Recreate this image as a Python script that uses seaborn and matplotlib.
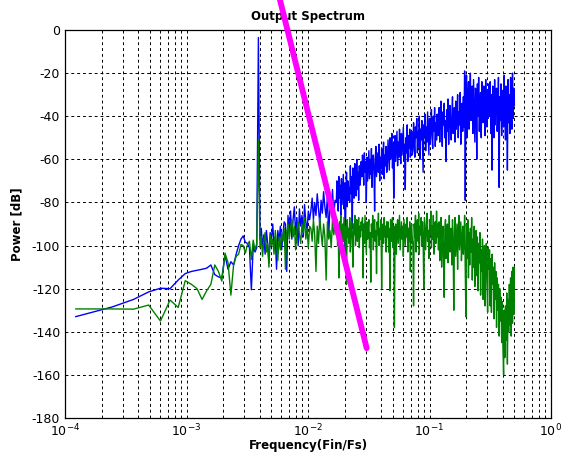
import numpy as np
import pandas as pd
import matplotlib
matplotlib.use("Agg")
import matplotlib.pyplot as plt
import seaborn as sns

# ---------------- data ----------------
fft_n = 8192
low_bins = list(range(1, 33))           # FFT bins k = 1..32 (f = k / N)
blue_low = [-133, -128.5, -125, -121.5, -119.8, -120, -116, -113, -112, -111.5,
            -111, -110.5, -109, -113.5, -114.5, -115, -104.5, -111, -107.5, -109,
            -104, -100, -97, -95.5, -98.5, -99, -101, -120.5, -100.5, -103,
            -101, -3.5]
green_low = [-129.4, -129.4, -129.5, -127.6, -135, -125.3, -128.7, -116.3, -118, -120,
             -125, -121, -118, -109, -112, -116.5, -103.5, -108, -123, -109,
             -105, -104, -99.5, -100, -103.5, -99.5, -98, -106.5, -97.5, -102,
             -99, -51]

# middle part: bin 33 .. f = 0.0171
mid_start, mid_stop = 33 / 8192, 0.0171
blue_mid = [
    -97, -92, -101, -95, -104, -93, -99, -108, -94, -97, -90, -100, -96, -111, -93, -98, -91, -102, -95, -89,
    -90, -112, -86, -94, -84, -97, -88, -82, -95, -87, -100, -83, -91, -86, -96, -81, -89, -93, -84, -88,
    -84, -78, -88, -80, -86, -76, -83, -90, -79, -85, -75, -82, -87, -77, -96, -81, -84, -74, -86, -79,
]
green_mid = [
    -101, -96, -105, -98, -94, -103, -99, -110, -95, -100, -97, -104, -93, -99, -107, -96, -102, -94, -98, -92,
    -111, -94, -90, -97, -92, -88, -96, -91, -102, -93, -89, -95, -99, -90, -94, -87, -97, -92, -101, -91,
    -92, -98, -88, -95, -112, -91, -99, -87, -94, -100, -90, -96, -116, -89, -97, -93, -101, -88, -95, -91,
]

# high part: f = 0.0171 .. Fs/2 (very dense in the reference)
high_start, high_stop = 0.0171, 0.5
blue_high = [
    -80, -70, -76, -84, -68, -78, -72, -86, -69, -81, -74, -67, -83, -71, -108, -77, -66, -82, -70, -79,
    -73, -80, -63, -76, -68, -92, -64, -73, -78, -62, -71, -77, -60, -74, -66, -79, -63, -72, -69, -61,
    -68, -58, -64, -72, -57, -66, -61, -80, -59, -70, -63, -56, -69, -60, -67, -55, -73, -62, -58, -65,
    -84, -60, -54, -68, -62, -57, -66, -53, -70, -59, -64, -55, -67, -61, -52, -69, -58, -63, -54, -66,
    -62, -51, -58, -65, -50, -60, -55, -48, -64, -53, -78, -57, -49, -61, -54, -47, -63, -52, -59, -46,
    -56, -62, -48, -58, -51, -45, -60, -53, -74, -50, -57, -44, -61, -49, -55, -46, -59, -52, -47, -58,
    -56, -43, -52, -59, -45, -50, -41, -57, -47, -54, -40, -60, -46, -51, -42, -55, -66, -44, -49, -39,
    -56, -45, -52, -38, -48, -58, -41, -53, -46, -37, -50, -55, -40, -47, -36, -54, -43, -51, -39, -49,
    -48, -36, -52, -40, -33, -46, -54, -38, -44, -34, -50, -42, -61, -37, -47, -32, -53, -41, -35, -45,
    -51, -39, -31, -48, -43, -36, -52, -33, -46, -40, -30, -50, -38, -44, -29, -53, -42, -34, -47, -31,
    -45, -19, -79, -28, -21, -50, -35, -24, -46, -30, -20, -42, -33, -26, -48, -23, -38, -52, -27, -31,
    -60, -25, -40, -22, -47, -34, -29, -50, -24, -37, -43, -26, -32, -49, -23, -36, -45, -28, -41, -25,
    -40, -24, -48, -30, -65, -26, -36, -50, -23, -44, -33, -27, -47, -38, -22, -73, -31, -42, -25, -49,
    -35, -28, -45, -21, -39, -51, -26, -34, -65, -23, -43, -30, -48, -22, -37, -46, -20, -41, -27, -35,
]
green_high = [
    -95, -88, -100, -92, -115, -89, -97, -86, -102, -93, -90, -98, -87, -94, -101, -91, -118, -88, -96, -92,
    -99, -87, -103, -94, -89, -97, -110, -90, -95, -86, -100, -92, -88, -98, -93, -87, -101, -91, -96, -89,
    -93, -87, -115, -90, -99, -86, -95, -104, -89, -97, -92, -88, -101, -94, -117, -90, -96, -86, -102, -91,
    -88, -98, -93, -113, -89, -95, -85, -100, -92, -97, -88, -120, -94, -90, -99, -87, -96, -91, -103, -89,
    -96, -89, -103, -92, -121, -88, -98, -94, -87, -101, -91, -138, -95, -90, -104, -93, -88, -99, -92, -86,
    -102, -95, -89, -97, -91, -105, -88, -94, -100, -90, -96, -87, -103, -92, -98, -89, -112, -93, -90, -97,
    -100, -128, -90, -96, -86, -103, -92, -88, -98, -85, -104, -91, -95, -87, -100, -89, -97, -120, -87, -94,
    -102, -90, -85, -98, -93, -106, -88, -95, -84, -101, -91, -97, -86, -104, -92, -89, -99, -84, -96, -90,
    -102, -89, -107, -94, -87, -110, -97, -91, -104, -124, -93, -88, -106, -96, -90, -108, -99, -86, -103, -95,
    -92, -109, -88, -100, -130, -94, -87, -105, -97, -90, -111, -93, -86, -102, -96, -89, -107, -98, -91, -104,
    -98, -86, -112, -133, -90, -106, -88, -115, -94, -109, -92, -103, -87, -116, -97, -110, -91, -119, -100, -93,
    -114, -96, -121, -99, -108, -94, -123, -102, -112, -97, -125, -104, -100, -128, -106, -99, -118, -131, -101, -111,
    -102, -128, -106, -131, -104, -118, -110, -134, -108, -125, -112, -138, -115, -130, -118, -142, -120, -135, -124, -145,
    -126, -147, -160, -130, -152, -128, -144, -122, -155, -125, -140, -118, -137, -115, -142, -112, -136, -110, -132, -110,
]

# magenta reference line (end points)
ref_freq = [0.0055, 0.0304]
ref_db = [20.5, -147.6]

title = "Output Spectrum"
xlabel = "Frequency(Fin/Fs)"
ylabel = "Power [dB]"
yticks = list(range(-180, 1, 20))
xticks = [1e-4, 1e-3, 1e-2, 1e-1, 1e0]
xticklabels = [r"$10^{-4}$", r"$10^{-3}$", r"$10^{-2}$", r"$10^{-1}$", r"$10^{0}$"]

# ---------------- assemble ----------------
freq = np.concatenate([np.array(low_bins) / fft_n,
                       np.geomspace(mid_start, mid_stop, len(blue_mid), endpoint=False),
                       np.geomspace(high_start, high_stop, len(blue_high))])
blue = np.array(blue_low + blue_mid + blue_high, dtype=float)
green = np.array(green_low + green_mid + green_high, dtype=float)
df_blue = pd.DataFrame({"freq": freq, "power": blue})
df_green = pd.DataFrame({"freq": freq, "power": green})

sns.set_style("white")
plt.rcParams["font.family"] = ["DejaVu Sans"]
plt.rcParams["text.color"] = "black"
plt.rcParams["axes.labelcolor"] = "black"
plt.rcParams["xtick.color"] = "black"
plt.rcParams["ytick.color"] = "black"

fig = plt.figure(figsize=(5.65, 4.59), dpi=100)
ax = fig.add_axes([65 / 565, 41 / 459, 486 / 565, 388 / 459])

sns.lineplot(data=df_blue, x="freq", y="power", color="#0000ff",
             linewidth=1.0, estimator=None, sort=False, ax=ax, zorder=3)
sns.lineplot(data=df_green, x="freq", y="power", color="#008000",
             linewidth=1.0, estimator=None, sort=False, ax=ax, zorder=4)
sns.lineplot(x=ref_freq, y=ref_db, color="#ff00ff", linewidth=4.2,
             estimator=None, sort=False, ax=ax, zorder=10, clip_on=False)

ax.set_xscale("log")
ax.set_xlim(1e-4, 1)
ax.set_ylim(-180, 0)
ax.set_xticks(xticks)
ax.set_xticklabels(xticklabels, fontsize=9, color="black")
ax.set_yticks(yticks)
ax.set_yticklabels([str(v) for v in yticks], fontsize=9, color="black")
ax.tick_params(which="both", direction="in", length=3, color="black")
ax.tick_params(which="minor", length=2)
ax.grid(True, which="major", axis="both", linestyle=(0, (3, 3)), color="black", linewidth=0.7)
ax.grid(True, which="minor", axis="x", linestyle=(0, (3, 3)), color="black", linewidth=0.7)
ax.set_axisbelow(True)
for s in ax.spines.values():
    s.set_color("black")
    s.set_linewidth(0.9)

ax.set_title(title, fontsize=8.5, fontweight="bold", pad=7, color="black")
ax.set_xlabel(xlabel, fontsize=8.5, fontweight="bold", labelpad=0, color="black")
ax.set_ylabel(ylabel, fontsize=8.5, fontweight="bold", labelpad=6, color="black")

fig.savefig("out.png", dpi=100)
